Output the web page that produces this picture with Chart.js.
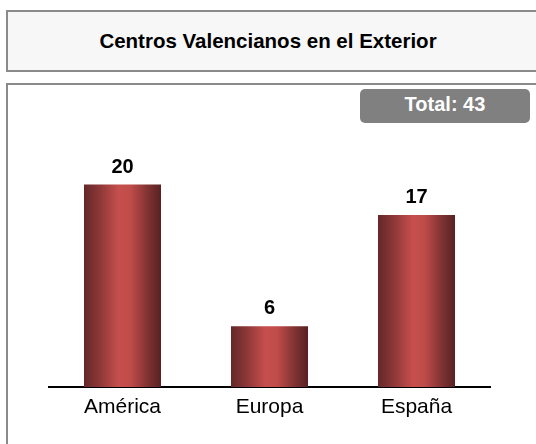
<!DOCTYPE html>
<html>
<head>
<meta charset="utf-8">
<script src="https://cdn.jsdelivr.net/npm/chart.js@4.4.1/dist/chart.umd.min.js"></script>
<style>
  html, body { margin:0; padding:0; background:#fff; }
  body { width:536px; height:444px; position:relative; overflow:hidden; font-family:"Liberation Sans", Arial, sans-serif; }
  #titlebox { position:absolute; left:6px; top:10px; width:620px; height:58px; background:#f7f7f7; border:2px solid #8a8a8a; }
  #title { position:absolute; left:6px; top:10px; width:524px; height:62px; line-height:62px; text-align:center; font-weight:bold; font-size:20.5px; color:#000; }
  #chartbox { position:absolute; left:6px; top:83px; width:620px; height:420px; background:#fff; border:2px solid #8a8a8a; }
  #total { position:absolute; left:360px; top:89px; width:170px; height:34px; line-height:31px; border-radius:5px; background:#808080; color:#fff; text-align:center; font-weight:bold; font-size:20px; }
  #c { position:absolute; left:0; top:0; }
</style>
</head>
<body>
<div id="titlebox"></div>
<div id="title"></div>
<div id="chartbox"></div>
<div id="total"></div>
<canvas id="c" width="536" height="444"></canvas>
<script>
const chartTitle = "Centros Valencianos en el Exterior";
const categories = ["América", "Europa", "España"];
const values = [20, 6, 17];
const totalLabel = "Total: " + values.reduce((a, b) => a + b, 0);

document.getElementById('title').textContent = chartTitle;
document.getElementById('total').textContent = totalLabel;

const FONT = '"Liberation Sans", Arial, sans-serif';
const BAR_PCT = 0.524;

function barGradient(ctx) {
  const chart = ctx.chart;
  const xs = chart.scales && chart.scales.x;
  if (!xs || ctx.dataIndex === undefined) return '#a04040';
  const cx = xs.getPixelForValue(ctx.dataIndex);
  const w = (xs.width / categories.length) * BAR_PCT;
  if (!isFinite(cx) || !isFinite(w) || w <= 0) return '#a04040';
  const g = chart.ctx.createLinearGradient(cx - w / 2, 0, cx + w / 2, 0);
  g.addColorStop(0, '#642828');
  g.addColorStop(0.2, '#8c3737');
  g.addColorStop(0.45, '#c64f4d');
  g.addColorStop(0.6, '#c04c4a');
  g.addColorStop(0.85, '#7a3030');
  g.addColorStop(1, '#582222');
  return g;
}

const valueLabels = {
  id: 'valueLabels',
  afterDatasetsDraw(chart) {
    const ctx = chart.ctx;
    const meta = chart.getDatasetMeta(0);
    ctx.save();
    ctx.font = 'bold 20px ' + FONT;
    ctx.fillStyle = '#000';
    ctx.textAlign = 'center';
    ctx.textBaseline = 'alphabetic';
    meta.data.forEach((bar, i) => {
      ctx.fillText(String(values[i]), bar.x, bar.y - 12);
    });
    ctx.restore();
  }
};

const chart = new Chart(document.getElementById('c'), {
  type: 'bar',
  data: {
    labels: categories,
    datasets: [{
      data: values,
      backgroundColor: barGradient,
      borderWidth: 0,
      barPercentage: BAR_PCT,
      categoryPercentage: 1
    }]
  },
  options: {
    responsive: false,
    animation: false,
    events: [],
    layout: { padding: { left: 49, right: 46, top: 134, bottom: 0 } },
    plugins: { legend: { display: false }, tooltip: { enabled: false }, title: { display: false } },
    scales: {
      x: {
        grid: { display: false, drawTicks: false },
        border: { display: true, color: '#000', width: 2 },
        ticks: { color: '#000', font: { family: FONT, size: 21 }, padding: 8 },
        afterFit(scale) { scale.height = 57; }
      },
      y: {
        display: false,
        min: 0,
        max: 25
      }
    }
  },
  plugins: [valueLabels]
});
chart.update();
</script>
</body>
</html>
